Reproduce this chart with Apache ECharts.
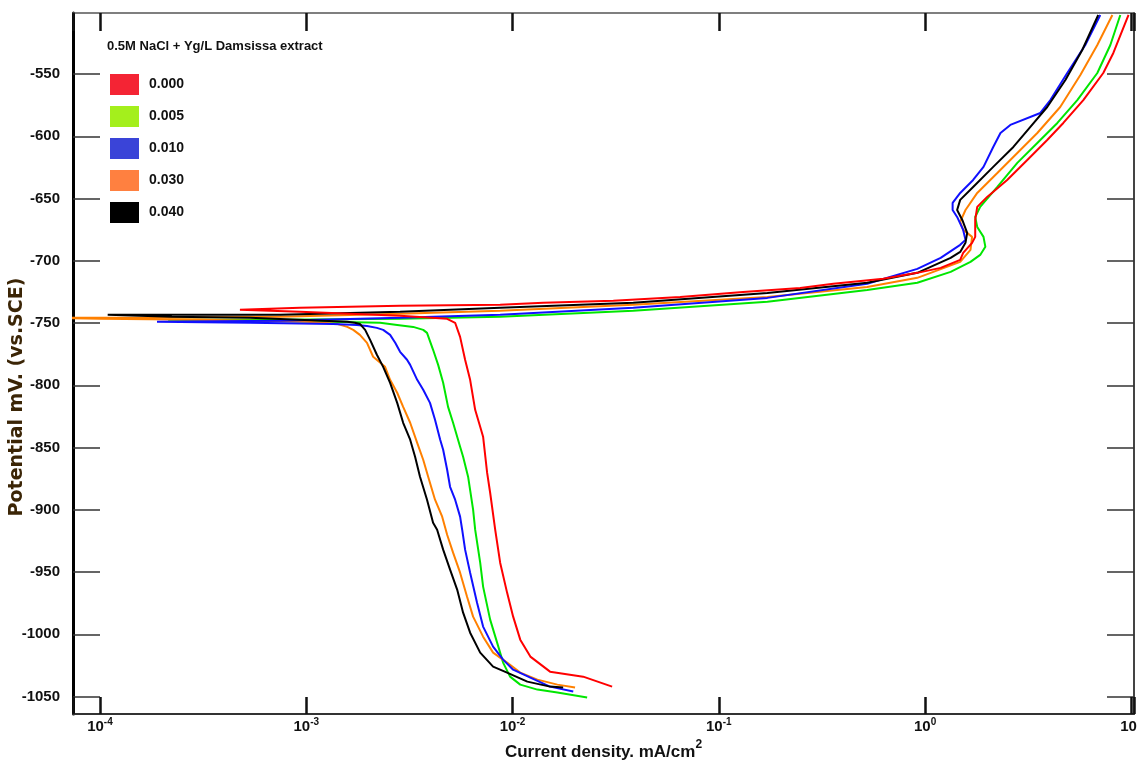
<!DOCTYPE html>
<html>
<head>
<meta charset="utf-8">
<script src="https://cdn.jsdelivr.net/npm/echarts@6/dist/echarts.min.js"></script>
<style>
  html, body { margin: 0; padding: 0; background: #fff; }
  #chart { width: 1137px; height: 764px; }
</style>
</head>
<body>
<div id="chart"></div>
<script>
// Tafel curves, [current density mA/cm2, potential mV vs SCE], in scan order
var concentrations = ['0.000', '0.005', '0.010', '0.030', '0.040']
var lineColors = ['#ff0000', '#00e600', '#1010ff', '#ff8000', '#000000']
var legendColors = ['#f42434', '#a4ef1c', '#3a44d8', '#ff8040', '#000000']
var yTicks = [-1050, -1000, -950, -900, -850, -800, -750, -700, -650, -600, -550]

var curve000 = [
  [3.04e-2, -1042.0], [2.20e-2, -1034.0], [1.52e-2, -1030.0], [1.22e-2, -1017.9], [1.09e-2, -1004.3],
  [1.007e-2, -985.8], [9.41e-3, -966.5], [8.71e-3, -942.5], [8.24e-3, -916.0], [7.79e-3, -886.3],
  [7.53e-3, -870.2], [7.20e-3, -841.3], [6.97e-3, -833.3], [6.59e-3, -819.7], [6.23e-3, -795.6],
  [5.89e-3, -779.5], [5.57e-3, -761.1], [5.27e-3, -749.8], [4.82e-3, -746.6], [2.85e-3, -744.2],
  [9.32e-4, -741.0], [4.77e-4, -739.4],
  [9.32e-4, -737.8], [2.85e-3, -736.2], [8.71e-3, -735.4], [1.41e-2, -733.8], [3.08e-2, -732.2],
  [6.50e-2, -729.0], [0.131, -725.0], [0.248, -721.8], [0.359, -718.5], [0.627, -714.5],
  [0.917, -709.7], [1.19, -705.7], [1.48, -699.3], [1.53, -693.7], [1.69, -685.6], [1.75, -680.8],
  [1.75, -667.2], [1.79, -656.7], [2.00, -648.7], [2.50, -635.1], [3.13, -619.0], [3.91, -603.0],
  [4.68, -589.3], [5.85, -570.9], [7.31, -549.2], [8.18, -533.1], [9.69, -502.6]
]
var curve005 = [
  [2.30e-2, -1050.8], [1.65e-2, -1046.8], [1.32e-2, -1044.4], [1.09e-2, -1040.4], [9.73e-3, -1034.0],
  [9.00e-3, -1022.7], [8.42e-3, -1006.7], [7.79e-3, -988.2], [7.20e-3, -961.7], [6.97e-3, -942.5],
  [6.59e-3, -916.0], [6.44e-3, -899.9], [6.09e-3, -873.4], [5.76e-3, -857.4], [5.57e-3, -849.4],
  [5.15e-3, -830.1], [4.87e-3, -817.3], [4.61e-3, -798.0], [4.36e-3, -783.6], [4.12e-3, -771.5],
  [3.85e-3, -757.9], [3.69e-3, -755.5], [3.30e-3, -753.1], [2.76e-3, -751.5], [2.28e-3, -749.8],
  [1.30e-3, -749.0], [5.34e-4, -748.2], [2.14e-4, -747.4],
  [7.46e-4, -747.4], [2.85e-3, -746.6], [8.71e-3, -745.0], [3.85e-2, -740.2], [0.172, -733.0],
  [0.524, -723.4], [0.917, -717.7], [1.33, -708.9], [1.66, -700.9], [1.85, -695.3], [1.96, -688.8],
  [1.92, -680.8], [1.79, -672.8], [1.75, -664.8], [1.85, -656.7], [2.24, -640.7], [2.80, -621.4],
  [3.50, -605.4], [4.38, -589.3], [5.47, -570.9], [6.84, -549.2], [7.91, -526.7], [8.84, -502.6]
]
var curve010 = [
  [1.97e-2, -1046.0], [1.52e-2, -1042.0], [1.22e-2, -1034.8], [1.007e-2, -1028.4], [9.00e-3, -1020.3],
  [8.05e-3, -1009.9], [7.20e-3, -993.8], [6.73e-3, -974.6], [6.23e-3, -950.5], [5.89e-3, -932.0],
  [5.70e-3, -916.0], [5.57e-3, -905.5], [5.27e-3, -891.9], [4.98e-3, -881.5], [4.82e-3, -867.8],
  [4.61e-3, -851.8], [4.46e-3, -843.7], [4.21e-3, -827.7], [3.98e-3, -814.1], [3.69e-3, -803.6],
  [3.45e-3, -795.6], [3.19e-3, -783.6], [3.08e-3, -779.5], [2.85e-3, -773.1], [2.70e-3, -765.9],
  [2.55e-3, -759.5], [2.36e-3, -755.5], [2.20e-3, -753.9], [1.97e-3, -752.3], [1.76e-3, -751.5],
  [1.35e-3, -750.7], [5.34e-4, -749.8], [1.89e-4, -749.0],
  [7.46e-4, -748.2], [2.85e-3, -745.8], [8.71e-3, -743.4], [3.85e-2, -737.8], [0.172, -729.8],
  [0.524, -718.5], [0.917, -706.5], [1.19, -697.7], [1.48, -687.2], [1.57, -683.2], [1.53, -675.2],
  [1.43, -664.8], [1.36, -659.2], [1.36, -653.5], [1.48, -645.5], [1.71, -635.1], [1.92, -624.6],
  [2.14, -608.6], [2.32, -597.4], [2.59, -590.9], [3.62, -581.3], [4.05, -570.9], [4.89, -549.2],
  [5.98, -526.7], [7.07, -502.6]
]
var curve030 = [
  [2.01e-2, -1042.8], [1.65e-2, -1040.4], [1.32e-2, -1036.4], [1.09e-2, -1030.8], [9.41e-3, -1022.7],
  [8.05e-3, -1014.7], [7.20e-3, -1001.9], [6.44e-3, -985.8], [6.02e-3, -969.8], [5.57e-3, -950.5],
  [5.15e-3, -934.4], [4.82e-3, -920.0], [4.56e-3, -905.5], [4.21e-3, -891.9], [3.90e-3, -873.4],
  [3.69e-3, -859.8], [3.45e-3, -846.2], [3.19e-3, -830.1], [2.95e-3, -817.3], [2.76e-3, -806.0],
  [2.55e-3, -795.6], [2.41e-3, -785.2], [2.11e-3, -777.1], [1.97e-3, -765.9], [1.82e-3, -759.5],
  [1.69e-3, -755.5], [1.58e-3, -753.1], [1.41e-3, -750.7], [1.21e-3, -749.8], [1.01e-3, -749.0],
  [3.05e-4, -747.4], [1.0e-4, -746.6], [5.0e-5, -745.8],
  [1.75e-4, -745.8], [7.46e-4, -745.0], [2.85e-3, -742.6], [8.71e-3, -740.2], [3.85e-2, -735.4],
  [0.172, -729.0], [0.524, -721.0], [0.917, -713.7], [1.48, -700.9], [1.66, -691.3], [1.69, -680.8],
  [1.53, -675.2], [1.48, -668.8], [1.57, -659.2], [1.79, -645.5], [2.24, -629.5], [2.80, -613.4],
  [3.50, -597.4], [4.52, -576.5], [5.66, -550.8], [6.84, -526.7], [8.09, -502.6]
]
var curve040 = [
  [1.76e-2, -1042.8], [1.52e-2, -1042.0], [1.18e-2, -1038.0], [9.41e-3, -1030.8], [8.05e-3, -1025.9],
  [6.97e-3, -1014.7], [6.23e-3, -998.7], [5.76e-3, -982.6], [5.39e-3, -964.1], [4.98e-3, -948.1],
  [4.61e-3, -932.0], [4.31e-3, -916.0], [4.12e-3, -910.4], [3.85e-3, -891.9], [3.56e-3, -873.4],
  [3.37e-3, -857.4], [3.19e-3, -843.7], [2.95e-3, -830.1], [2.76e-3, -814.1], [2.55e-3, -798.0],
  [2.36e-3, -785.2], [2.20e-3, -775.5], [2.04e-3, -763.5], [1.93e-3, -755.5], [1.82e-3, -750.7],
  [1.72e-3, -749.8], [1.58e-3, -749.0], [5.34e-4, -745.8], [2.23e-4, -745.0], [1.09e-4, -743.4],
  [7.46e-4, -743.4], [2.85e-3, -741.0], [8.71e-3, -737.8], [3.85e-2, -733.8], [0.172, -725.8],
  [0.524, -717.7], [0.917, -709.7], [1.33, -697.7], [1.48, -692.9], [1.57, -685.6], [1.60, -677.6],
  [1.515, -667.2], [1.43, -659.2], [1.48, -651.1], [1.71, -640.7], [2.14, -624.6], [2.68, -608.6],
  [3.24, -592.5], [3.91, -576.5], [4.79, -554.8], [5.78, -530.7], [6.91, -502.6]
]
var curves = [curve000, curve005, curve010, curve030, curve040]

var sans = '"Liberation Sans", Arial, sans-serif'

var chart = echarts.init(document.getElementById('chart'), null, { renderer: 'canvas' })

// draw order: green, orange, blue, black, red on top
var drawOrder = [1, 3, 2, 4, 0]
var series = []
for (var k = 0; k < drawOrder.length; k++) {
  var i = drawOrder[k]
  series.push({
    name: concentrations[i],
    type: 'line',
    data: curves[i],
    showSymbol: false,
    symbol: 'none',
    clip: true,
    lineStyle: { color: lineColors[i], width: 2 },
    itemStyle: { color: legendColors[i] },
    z: 2 + k
  })
}

var legendData = []
for (var j = 0; j < concentrations.length; j++) {
  legendData.push({ name: concentrations[j], itemStyle: { color: legendColors[j] } })
}

function xLabel(v) {
  var lg = Math.log10(v)
  var p = Math.round(lg)
  if (Math.abs(lg - p) > 1e-6) return ''
  return '{a|10}{b|' + p + '}'
}

var xRich = {
  a: { fontFamily: sans, fontWeight: 'bold', fontSize: 15, color: '#111', lineHeight: 17, verticalAlign: 'bottom' },
  b: { fontFamily: sans, fontWeight: 'bold', fontSize: 10, color: '#111', lineHeight: 17, verticalAlign: 'top' }
}

var option = {
  animation: false,
  backgroundColor: '#fff',
  title: {
    text: '0.5M NaCl + Yg/L Damsissa extract',
    left: 107,
    top: 40,
    padding: 0,
    textStyle: { fontFamily: sans, fontWeight: 'bold', fontSize: 13, color: '#111' }
  },
  legend: {
    data: legendData,
    orient: 'vertical',
    left: 110,
    top: 74,
    padding: 0,
    icon: 'rect',
    itemWidth: 29,
    itemHeight: 21,
    itemGap: 11,
    selectedMode: false,
    textStyle: { fontFamily: sans, fontWeight: 'bold', fontSize: 14, color: '#111', padding: [0, 0, 0, 5] }
  },
  grid: { left: 73, right: 3, top: 13, bottom: 50, outerBoundsMode: 'none' },
  xAxis: [
    {
      type: 'log',
      position: 'bottom',
      min: 7.4e-5,
      max: 10.3,
      logBase: 10,
      axisLine: { lineStyle: { color: '#333', width: 2 } },
      axisTick: { inside: true, length: 17, lineStyle: { color: '#111', width: 2.5 } },
      axisLabel: { formatter: xLabel, rich: xRich, margin: 3, hideOverlap: false },
      splitLine: { show: false },
      minorTick: { show: false },
      name: '{n|Current density. mA/cm}{s|2}',
      nameLocation: 'middle',
      nameGap: 19,
      nameTextStyle: {
        rich: {
          n: { fontFamily: sans, fontWeight: 'bold', fontSize: 17, color: '#111', lineHeight: 22, verticalAlign: 'bottom' },
          s: { fontFamily: sans, fontWeight: 'bold', fontSize: 12, color: '#111', lineHeight: 22, verticalAlign: 'top' }
        }
      }
    },
    {
      type: 'log',
      position: 'top',
      min: 7.4e-5,
      max: 10.3,
      logBase: 10,
      axisLine: { lineStyle: { color: '#555', width: 1.5 } },
      axisTick: { inside: true, length: 18, lineStyle: { color: '#111', width: 2.5 } },
      axisLabel: { show: false },
      splitLine: { show: false }
    }
  ],
  yAxis: [
    {
      type: 'value',
      position: 'left',
      min: -1064,
      max: -501,
      axisLine: { show: true, lineStyle: { color: '#000', width: 3 } },
      axisTick: { show: true, inside: true, length: 27, customValues: yTicks, lineStyle: { color: '#333', width: 1.5 } },
      axisLabel: {
        customValues: yTicks,
        formatter: function (v) { return String(v) },
        margin: 13,
        fontFamily: sans,
        fontWeight: 'bold',
        fontSize: 15,
        color: '#111'
      },
      splitLine: { show: false }
    },
    {
      type: 'value',
      position: 'right',
      min: -1064,
      max: -501,
      axisLine: { show: true, lineStyle: { color: '#444', width: 2 } },
      axisTick: { show: true, inside: true, length: 27, customValues: yTicks, lineStyle: { color: '#333', width: 1.5 } },
      axisLabel: { show: false },
      splitLine: { show: false }
    }
  ],
  graphic: [
    {
      type: 'text',
      x: 17,
      y: 397,
      rotation: Math.PI / 2,
      style: {
        text: 'Potential mV. (vs.SCE)',
        fontFamily: '"DejaVu Sans", sans-serif',
        fontWeight: 'bold',
        fontSize: 19,
        fill: '#3b2506',
        textAlign: 'center',
        textVerticalAlign: 'middle'
      }
    }
  ],
  series: series
}

chart.setOption(option)
</script>
</body>
</html>
